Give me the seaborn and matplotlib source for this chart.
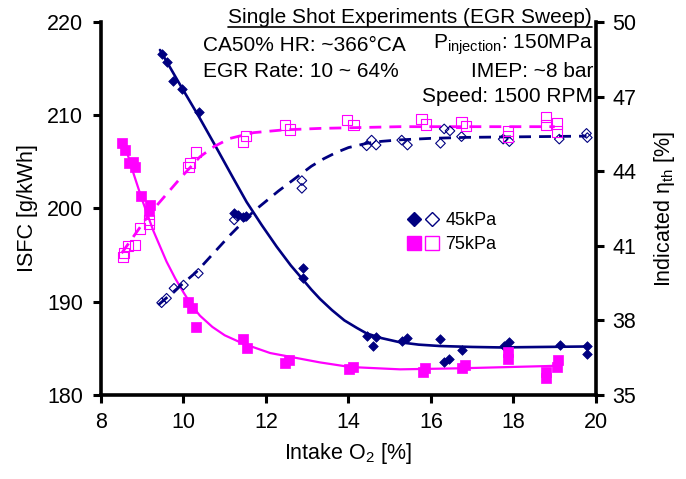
import numpy as np
import pandas as pd
import matplotlib
matplotlib.use("Agg")
import matplotlib.pyplot as plt
import seaborn as sns
from matplotlib.lines import Line2D
from matplotlib.legend_handler import HandlerTuple

# ---------------- data ----------------
# 45kPa ISFC (filled diamonds, left axis)
o2_isfc45 = [9.47, 9.61, 9.75, 9.96, 10.37, 11.23, 11.33, 11.45, 11.52, 12.89, 12.89,
             14.44, 14.59, 14.67, 15.29, 15.43, 16.23, 16.32, 16.44, 16.74, 17.77, 17.90,
             19.13, 19.77, 19.77]
isfc45 = [216.6, 215.7, 213.7, 212.8, 210.3, 199.5, 199.3, 199.05, 199.2, 193.6, 192.5,
          186.3, 185.3, 186.2, 185.8, 186.1, 186.0, 183.5, 183.9, 184.8, 185.3, 185.7,
          185.4, 185.3, 184.4]
# 45kPa efficiency (open diamonds, right axis)
o2_eff45 = [9.47, 9.59, 9.77, 10.0, 10.36, 11.23, 11.30, 12.87, 12.87, 14.44, 14.56, 14.67,
            15.29, 15.43, 16.23, 16.32, 16.46, 16.74, 17.75, 17.90, 19.11, 19.77, 19.79]
eff45 = [38.71, 38.89, 39.29, 39.42, 39.89, 42.04, 42.2, 43.62, 43.31, 45.02, 45.25, 45.05,
         45.25, 45.05, 45.12, 45.70, 45.62, 45.39, 45.29, 45.19, 45.29, 45.52, 45.35]
# 75kPa ISFC (filled squares, left axis)
o2_isfc75 = [8.52, 8.58, 8.69, 8.78, 8.82, 8.96, 9.17, 9.19, 10.12, 10.20, 10.30, 11.45,
             11.55, 12.46, 12.56, 14.02, 14.10, 15.80, 15.85, 16.74, 16.82, 17.87, 17.87,
             18.80, 18.80, 19.05, 19.09]
isfc75 = [207.0, 206.3, 204.9, 205.0, 204.4, 201.3, 199.7, 200.4, 190.0, 189.3, 187.3, 186.0,
          185.0, 183.4, 183.75, 182.75, 183.0, 182.5, 182.86, 182.86, 183.2, 184.6, 183.9,
          182.5, 181.8, 183.0, 183.8]
# 75kPa efficiency (open squares, right axis)
o2_eff75 = [8.53, 8.56, 8.66, 8.82, 8.95, 9.17, 9.17, 10.12, 10.16, 10.30, 11.45, 11.52,
            12.46, 12.58, 13.96, 14.12, 15.77, 15.88, 16.74, 16.85, 17.87, 17.87, 18.79,
            18.79, 19.05, 19.06]
eff75 = [40.56, 40.70, 40.99, 41.03, 41.70, 42.04, 41.88, 44.18, 44.34, 44.78, 45.19, 45.41,
         45.86, 45.68, 46.06, 45.86, 46.10, 45.88, 45.96, 45.83, 45.62, 45.39, 46.19,
         45.86, 45.92, 45.59]

# trend curves
trend_isfc45_x = [9.43, 9.9, 10.38, 10.8, 11.2, 11.53, 11.9, 12.26, 12.6, 12.89, 13.1, 13.31,
                  13.6, 13.9, 14.2, 14.44, 14.8, 15.25, 15.7, 16.22, 17.0, 17.67, 18.7, 19.77]
trend_isfc45_y = [217.0, 213.4, 209.8, 206.5, 203.3, 200.7, 198.2, 195.9, 193.9, 192.4, 191.3,
                  190.3, 189.1, 188.0, 187.2, 186.6, 186.1, 185.65, 185.4, 185.25, 185.15,
                  185.1, 185.15, 185.2]
trend_isfc75_x = [8.54, 8.8, 9.0, 9.27, 9.59, 9.8, 10.0, 10.2, 10.4, 10.7, 11.0, 11.45, 12.1,
                  13.3, 14.04, 15.25, 16.7, 18.8, 19.1]
trend_isfc75_y = [207.3, 203.6, 200.9, 197.6, 194.3, 192.5, 191.0, 189.6, 188.5, 187.3, 186.4,
                  185.5, 184.5, 183.5, 183.0, 182.75, 182.86, 183.1, 183.15]
trend_eff45_x = [9.39, 10.32, 11.13, 11.69, 12.3, 12.82, 13.1, 13.4, 13.7, 14.0, 14.44, 14.8,
                 15.25, 16.0, 16.87, 19.77]
trend_eff45_y = [38.62, 39.96, 41.43, 42.37, 43.2, 43.85, 44.2, 44.5, 44.75, 44.95, 45.12,
                 45.2, 45.26, 45.32, 45.36, 45.41]
trend_eff75_x = [8.5, 9.19, 9.92, 10.4, 10.75, 11.13, 11.7, 12.42, 13.3, 15.25, 17.67, 19.0]
trend_eff75_y = [40.7, 42.31, 43.71, 44.58, 45.0, 45.32, 45.55, 45.66, 45.72, 45.79, 45.79, 45.79]

x_ticks = [8, 10, 12, 14, 16, 18, 20]
left_ticks = [180, 190, 200, 210, 220]
right_ticks = [35, 38, 41, 44, 47, 50]
legend_labels = ["45kPa", "75kPa"]

# ---------------- style ----------------
sns.set_theme(style="ticks")
plt.rcParams['font.family'] = ['Liberation Sans', 'DejaVu Sans']
plt.rcParams['mathtext.fontset'] = 'custom'
plt.rcParams['mathtext.rm'] = 'Liberation Sans'
plt.rcParams['mathtext.it'] = 'Liberation Sans:italic'
plt.rcParams['mathtext.bf'] = 'Liberation Sans:bold'

NAVY = '#000080'
MAG = '#FF00FF'

fig = plt.figure(figsize=(6.86, 4.79), dpi=100)
ax = fig.add_axes([0.1472, 0.1754, 0.7216, 0.7787])
ax2 = ax.twinx()

# lines
dash = (0, (4.3, 2.9))
sns.lineplot(x=trend_isfc45_x, y=trend_isfc45_y, ax=ax, color=NAVY, linewidth=1.9,
             estimator=None, zorder=2)
sns.lineplot(x=trend_isfc75_x, y=trend_isfc75_y, ax=ax, color=MAG, linewidth=1.6,
             estimator=None, zorder=2)
sns.lineplot(x=trend_eff45_x, y=trend_eff45_y, ax=ax2, color=NAVY, linewidth=2.0,
             linestyle=dash, estimator=None, zorder=2)
sns.lineplot(x=trend_eff75_x, y=trend_eff75_y, ax=ax2, color=MAG, linewidth=2.0,
             linestyle=dash, estimator=None, zorder=2)

# markers
sns.scatterplot(x=o2_isfc45, y=isfc45, ax=ax, marker='D', s=24, color=NAVY,
                edgecolor=NAVY, linewidth=0.5, zorder=3)
sns.scatterplot(x=o2_isfc75, y=isfc75, ax=ax, marker='s', s=50, color=MAG,
                edgecolor=MAG, linewidth=0.5, zorder=3)
sns.scatterplot(x=o2_eff45, y=eff45, ax=ax2, marker='D', s=24, color=NAVY,
                facecolor='none', edgecolor=NAVY, linewidth=0.8, zorder=3)
sns.scatterplot(x=o2_eff75, y=eff75, ax=ax2, marker='s', s=55, color=MAG,
                facecolor='none', edgecolor=MAG, linewidth=0.8, zorder=3)

# axes
ax.set_xlim(8, 20)
ax.set_ylim(180, 220)
ax2.set_ylim(35, 50)
ax.set_xticks(x_ticks)
ax.set_yticks(left_ticks)
ax2.set_yticks(right_ticks)

for s in ['top', 'right']:
    ax.spines[s].set_visible(False)
for s in ['top', 'left', 'bottom']:
    ax2.spines[s].set_visible(False)
for s in ['left', 'bottom']:
    ax.spines[s].set_linewidth(2.6)
    ax.spines[s].set_color('black')
ax2.spines['right'].set_linewidth(2.6)
ax2.spines['right'].set_color('black')

ax.tick_params(axis='both', direction='out', length=6, width=2.2, color='black',
               labelsize=15.5, labelcolor='black', pad=7)
ax.tick_params(axis='x', pad=6)
ax2.tick_params(axis='y', direction='out', length=6, width=2.2, color='black',
                labelsize=15.5, labelcolor='black', pad=6)

ax.set_xlabel("Intake O$_2$ [%]", fontsize=15.5, color='black', labelpad=6)
ax.set_ylabel("ISFC [g/kWh]", fontsize=15.5, color='black', labelpad=6)
ax2.set_ylabel("Indicated η$_{\\mathregular{th}}$ [%]", fontsize=15.5, color='black', labelpad=11)

# annotations
tkw = dict(transform=ax.transAxes, fontsize=15, color='black', zorder=5)
title = ax2.text(0.992, 1.013, "Single Shot Experiments (EGR Sweep)", ha='right', va='center', **tkw)
ax2.text(0.206, 0.938, "CA50% HR: ~366°CA", ha='left', va='center', **tkw)
ax2.text(0.994, 0.938, "P$_{\\mathregular{injection}}$: 150MPa", ha='right', va='center', **tkw)
ax2.text(0.206, 0.866, "EGR Rate: 10 ~ 64%", ha='left', va='center', **tkw)
ax2.text(0.994, 0.866, "IMEP: ~8 bar", ha='right', va='center', **tkw)
ax2.text(0.994, 0.799, "Speed: 1500 RPM", ha='right', va='center', **tkw)

# legend
h45f = Line2D([], [], marker='D', ls='none', color=NAVY, ms=7)
h45o = Line2D([], [], marker='D', ls='none', mfc='none', mec=NAVY, mew=1.0, ms=7)
h75f = Line2D([], [], marker='s', ls='none', color=MAG, ms=9.5)
h75o = Line2D([], [], marker='s', ls='none', mfc='none', mec=MAG, mew=1.0, ms=9.5)
ax2.legend([(h45f, h45o), (h75f, h75o)], legend_labels,
           handler_map={tuple: HandlerTuple(ndivide=None, pad=0.0)},
           loc='upper left', bbox_to_anchor=(0.614, 0.49), frameon=False,
           fontsize=13, handlelength=2.0, handletextpad=0.25, labelspacing=0.4,
           borderpad=0, borderaxespad=0, labelcolor='black')

# underline title
fig.canvas.draw()
bb = title.get_window_extent()
W, H = fig.get_size_inches() * fig.dpi
yline = 1 - 27.3 / 479
fig.add_artist(Line2D([bb.x0 / W, bb.x1 / W], [yline, yline], color='black', lw=1.2))

fig.savefig("out.png", dpi=100)
